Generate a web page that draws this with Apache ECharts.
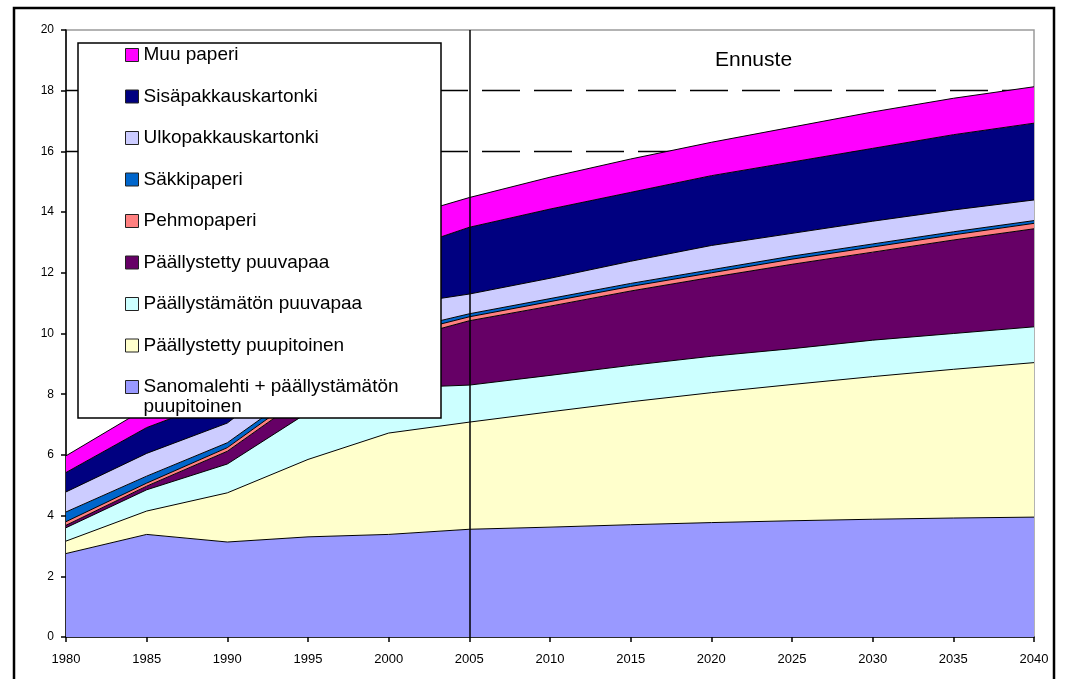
<!DOCTYPE html>
<html>
<head>
<meta charset="utf-8">
<title>Paperin kulutus</title>
<script src="https://cdn.jsdelivr.net/npm/echarts@6/dist/echarts.min.js"></script>
<style>
  html, body { margin: 0; padding: 0; background: #fff; }
  #chart { width: 1069px; height: 679px; }
</style>
</head>
<body>
<div id="chart"></div>
<script>
// Years on the category axis
const years = ['1980', '1985', '1990', '1995', '2000', '2005', '2010', '2015', '2020', '2025', '2030', '2035', '2040'];

// Consumption by grade (stacked from bottom to top)
const sanomalehti      = [2.75, 3.38, 3.13, 3.30, 3.38, 3.55, 3.62, 3.70, 3.77, 3.83, 3.88, 3.92, 3.95];
const paalPuupitoinen  = [0.41, 0.77, 1.62, 2.55, 3.34, 3.53, 3.80, 4.05, 4.28, 4.49, 4.70, 4.90, 5.09];
const paalmPuuvapaa    = [0.44, 0.70, 0.95, 1.55, 1.48, 1.22, 1.20, 1.20, 1.20, 1.18, 1.20, 1.18, 1.18];
const paalPuuvapaa     = [0.08, 0.12, 0.42, 0.60, 1.50, 2.12, 2.28, 2.45, 2.60, 2.78, 2.90, 3.08, 3.23];
const pehmopaperi      = [0.12, 0.10, 0.12, 0.15, 0.18, 0.13, 0.15, 0.15, 0.15, 0.17, 0.17, 0.17, 0.18];
const sakkipaperi      = [0.32, 0.23, 0.16, 0.15, 0.14, 0.10, 0.10, 0.10, 0.10, 0.10, 0.10, 0.10, 0.09];
const ulkopakkaus      = [0.66, 0.75, 0.65, 0.80, 0.88, 0.65, 0.67, 0.73, 0.80, 0.75, 0.75, 0.72, 0.68];
const sisapakkaus      = [0.64, 0.85, 0.85, 1.30, 1.70, 2.20, 2.28, 2.27, 2.30, 2.35, 2.40, 2.48, 2.53];
const muuPaperi        = [0.55, 0.65, 0.85, 1.00, 1.10, 0.98, 1.05, 1.10, 1.10, 1.15, 1.20, 1.20, 1.20];

// Reference levels and forecast start
const referenceLevels = [16, 18];
const forecastStart = '2005';
const forecastLabel = 'Ennuste';

const SAN = 'Sanomalehti + päällystämätön puupitoinen';
const layers = [
  { name: SAN,                          data: sanomalehti,     color: '#9999FF' },
  { name: 'Päällystetty puupitoinen',   data: paalPuupitoinen, color: '#FFFFCC' },
  { name: 'Päällystämätön puuvapaa',    data: paalmPuuvapaa,   color: '#CCFFFF' },
  { name: 'Päällystetty puuvapaa',      data: paalPuuvapaa,    color: '#660066' },
  { name: 'Pehmopaperi',                data: pehmopaperi,     color: '#FF8080' },
  { name: 'Säkkipaperi',                data: sakkipaperi,     color: '#0066CC' },
  { name: 'Ulkopakkauskartonki',        data: ulkopakkaus,     color: '#CCCCFF' },
  { name: 'Sisäpakkauskartonki',        data: sisapakkaus,     color: '#000080' },
  { name: 'Muu paperi',                 data: muuPaperi,       color: '#FF00FF' }
];

const FONT = '"Liberation Sans", Arial, sans-serif';

const series = layers.map((l, i) => {
  const s = {
    name: l.name,
    type: 'line',
    stack: 'total',
    data: l.data,
    symbol: 'none',
    smooth: false,
    color: l.color,
    itemStyle: { color: l.color },
    lineStyle: { color: '#000', width: 1 },
    areaStyle: { color: l.color, opacity: 1 },
    emphasis: { disabled: true },
    silent: true
  };
  if (i === 0) {
    s.markLine = {
      silent: true,
      symbol: 'none',
      z: 1,
      label: { show: false },
      lineStyle: { color: '#000', width: 1.3, type: [38, 14] },
      data: referenceLevels.map(v => ({ yAxis: v }))
    };
  }
  if (i === layers.length - 1) {
    s.markLine = {
      silent: true,
      symbol: 'none',
      z: 6,
      label: { show: false },
      lineStyle: { color: '#000', width: 1.5, type: 'solid' },
      data: [{ xAxis: forecastStart }]
    };
  }
  return s;
});

const legendCommon = {
  orient: 'vertical',
  left: 125,
  padding: 0,
  itemGap: 21.5,
  itemWidth: 13,
  itemHeight: 13,
  icon: 'rect',
  z: 10,
  itemStyle: { borderColor: '#222', borderWidth: 1 },
  textStyle: { fontFamily: FONT, fontSize: 19, lineHeight: 20, color: '#000' },
  selectedMode: false
};

const chart = echarts.init(document.getElementById('chart'), null, { renderer: 'canvas' });

chart.setOption({
  animation: false,
  backgroundColor: '#fff',
  textStyle: { fontFamily: FONT },
  title: {
    text: forecastLabel,
    left: 710,
    top: 45,
    textStyle: { fontFamily: FONT, fontSize: 21, fontWeight: 'normal', color: '#000' }
  },
  grid: {
    left: 66, right: 35, top: 30, bottom: 42,
    show: true,
    borderColor: '#9a9a9a',
    borderWidth: 1.5,
    backgroundColor: 'transparent'
  },
  legend: [
    Object.assign({}, legendCommon, {
      top: 45,
      data: layers.slice(1).map(l => l.name).reverse()
    }),
    // Two-line entry: a leading blank line keeps the swatch level with the first line
    Object.assign({}, legendCommon, {
      top: 357,
      data: [SAN],
      formatter: () => ' \nSanomalehti + päällystämätön\npuupitoinen'
    })
  ],
  xAxis: {
    type: 'category',
    data: years,
    boundaryGap: false,
    axisLine: { lineStyle: { color: '#000', width: 1.5 } },
    axisTick: { show: true, alignWithLabel: true, length: 5, lineStyle: { color: '#000', width: 1.5 } },
    axisLabel: { color: '#000', fontSize: 13, fontFamily: FONT, margin: 16 },
    splitLine: { show: false }
  },
  yAxis: {
    type: 'value',
    min: 0,
    max: 20,
    interval: 2,
    axisLine: { show: true, lineStyle: { color: '#000', width: 1.5 } },
    axisTick: { show: true, length: 5, lineStyle: { color: '#000', width: 1.5 } },
    axisLabel: { color: '#000', fontSize: 12, fontFamily: FONT, margin: 12 },
    splitLine: { show: false }
  },
  graphic: [
    {
      type: 'rect',
      z: 8,
      shape: { x: 78, y: 43, width: 363, height: 375 },
      style: { fill: '#fff', stroke: '#000', lineWidth: 1.5 }
    },
    {
      type: 'polyline',
      z: 20,
      shape: { points: [[14, 679], [14, 8], [1054, 8], [1054, 679]] },
      style: { fill: null, stroke: '#000', lineWidth: 2.5 }
    }
  ],
  series: series
});
</script>
</body>
</html>
